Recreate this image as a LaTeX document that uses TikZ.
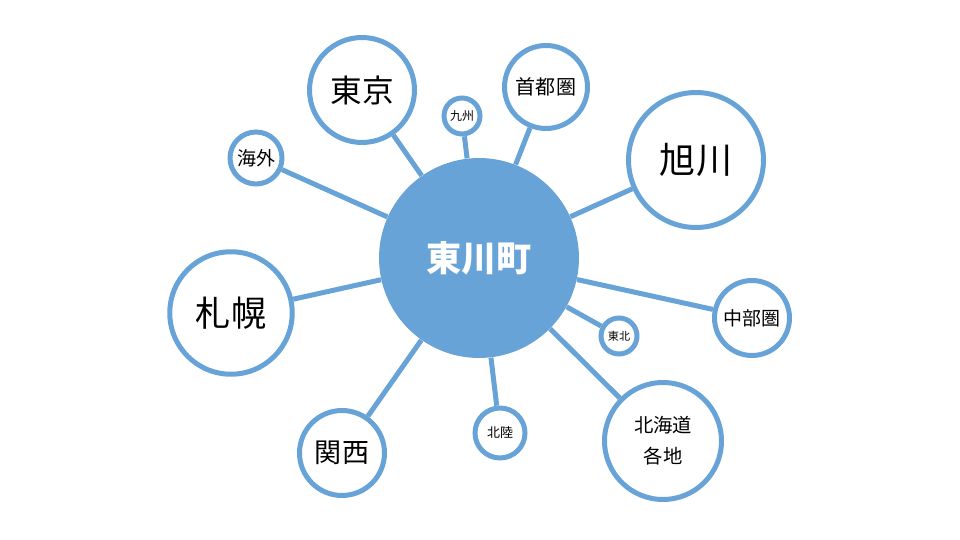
\documentclass[tikz,border=0pt]{standalone}
\usepackage{fontspec}
\setmainfont{Noto Sans CJK JP}
\definecolor{townblue}{RGB}{104,163,216}
\newcommand{\fs}[1]{\fontsize{#1}{#1}\selectfont}

\begin{document}
\begin{tikzpicture}[x=0.02cm,y=-0.02cm,
  hub/.style={circle,fill=townblue,minimum size=4cm,inner sep=0pt,
    text=white,font=\fs{20}\bfseries},
  area/.style={circle,draw=townblue,line width=0.1cm,fill=white,
    inner sep=0pt,text=black,minimum size=#1},
  link/.style={draw=townblue,line width=0.1cm}]
\useasboundingbox (0,0) rectangle (960,540);

\node[hub] (cnt) at (479,258) {東川町};

\node[area=2.1cm,font=\fs{18}] (tokyo) at (362,90) {東京};
\node[area=0.72cm,font=\fs{6.8}] (kyushu) at (462,116) {九州};
\node[area=1.66cm,font=\fs{11.4}] (shutoken) at (546,87) {首都圏};
\node[area=2.7cm,font=\fs{20.5}] (asahikawa) at (696,160) {旭川};
\node[area=1.04cm,font=\fs{10.8}] (kaigai) at (256,158) {海外};
\node[area=2.45cm,font=\fs{20}] (sapporo) at (231,313) {札幌};
\node[area=1.5cm,font=\fs{10.8}] (chubu) at (752,318) {中部圏};
\node[area=0.72cm,font=\fs{6.3}] (tohoku) at (619,336) {東北};
\node[area=2.34cm,font=\fontsize{11}{17.5}\selectfont,align=center]
  (dokakuchi) at (663,441) {北海道\\各地};
\node[area=1.0cm,font=\fs{7.4}] (hokuriku) at (500,433) {北陸};
\node[area=1.7cm,font=\fs{15.4}] (kansai) at (342,453) {関西};

\draw[link] (cnt) -- (tokyo);
\draw[link] (cnt) -- (kyushu);
\draw[link] (cnt) -- (shutoken);
\draw[link] (cnt) -- (asahikawa);
\draw[link] (cnt) -- (kaigai);
\draw[link] (cnt) -- (sapporo);
\draw[link] (cnt) -- (chubu);
\draw[link] (cnt) -- (tohoku);
\draw[link] (cnt) -- (dokakuchi);
\draw[link] (cnt) -- (hokuriku);
\draw[link] (cnt) -- (kansai);
\end{tikzpicture}
\end{document}
